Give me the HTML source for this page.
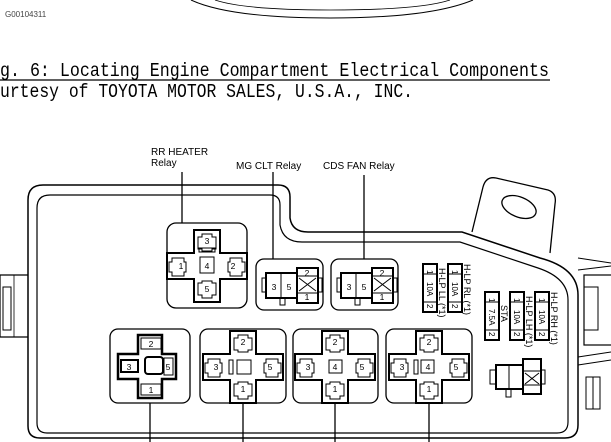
<!DOCTYPE html>
<html><head><meta charset="utf-8"><style>
html,body{margin:0;padding:0;background:#fff;}
svg{display:block;}
</style></head><body>
<svg width="611" height="442" viewBox="0 0 611 442" xmlns="http://www.w3.org/2000/svg" font-family="'Liberation Sans',sans-serif">
<defs>
<g id="cross">
<path d="M-13,-36 H13 V-13 H40 V13 H13 V36 H-13 V13 H-40 V-13 H-13 Z" fill="none" stroke="#000" stroke-width="2"/>
<path d="M-9,-29 h4 v-3 h10 v3 h4 v12 h-4 v2 h-10 v-2 h-4 Z" fill="none" stroke="#000" stroke-width="1"/>
<path d="M-9,17 h4 v-2 h10 v2 h4 v12 h-4 v3 h-10 v-3 h-4 Z" fill="none" stroke="#000" stroke-width="1"/>
<path d="M-35,-8 v4 h-3 v10 h3 v4 h12 v-4 h2 v-10 h-2 v-4 Z" fill="none" stroke="#000" stroke-width="1"/>
<path d="M35,-8 v4 h3 v10 h-3 v4 h-12 v-4 h-2 v-10 h2 v-4 Z" fill="none" stroke="#000" stroke-width="1"/>
</g>
<g id="conn">
<rect x="0" y="0" width="67" height="51" rx="8" fill="none" stroke="#000" stroke-width="1.3"/>
<rect x="10" y="14" width="31" height="25" fill="none" stroke="#000" stroke-width="2"/>
<line x1="25" y1="14" x2="25" y2="39" stroke="#000"/>
<rect x="41" y="9" width="21" height="35" fill="none" stroke="#000" stroke-width="2"/>
<line x1="41" y1="17" x2="62" y2="17" stroke="#000"/>
<line x1="41" y1="34" x2="62" y2="34" stroke="#000"/>
<path d="M43,19 L60,32 M60,19 L43,32" stroke="#000"/>
<rect x="6" y="19" width="4" height="14" fill="none" stroke="#000"/>
<rect x="62" y="19" width="4" height="14" fill="none" stroke="#000"/>
<rect x="24" y="39" width="5" height="7" fill="none" stroke="#000"/>
</g>
<g id="fuse">
<rect x="0" y="0" width="14" height="48" fill="none" stroke="#000" stroke-width="2"/>
<line x1="0" y1="10" x2="14" y2="10" stroke="#000"/>
<line x1="0" y1="38" x2="14" y2="38" stroke="#000"/>
</g>
</defs>

<text x="5" y="17" font-size="8" fill="#444">G00104311</text>
<path d="M191,0 Q230,18 330,18 Q430,18 473,0" fill="none" stroke="#000" stroke-width="1"/>
<path d="M215,0 Q245,10 330,10 Q420,10 450,0" fill="none" stroke="#000" stroke-width="0.8"/>

<g font-family="'Liberation Mono','Noto Serif CJK SC',monospace" font-size="19">
<text x="0" y="76" textLength="549" lengthAdjust="spacingAndGlyphs">g. 6: Locating Engine Compartment Electrical Components</text>
<line x1="0" y1="80" x2="550" y2="80" stroke="#000" stroke-width="1.2"/>
<text x="0" y="97" textLength="413" lengthAdjust="spacingAndGlyphs">urtesy of TOYOTA MOTOR SALES, U.S.A., INC.</text>
</g>

<g font-size="10" fill="#000">
<text x="151" y="155">RR HEATER</text>
<text x="151" y="166">Relay</text>
<text x="236" y="169">MG CLT Relay</text>
<text x="323" y="169">CDS FAN Relay</text>
</g>

<path d="M472,232 L483,187 Q486,176 496,178 L548,190 Q557,193 555,204 L550,253" fill="none" stroke="#000" stroke-width="1.3"/>
<ellipse cx="519" cy="207" rx="18" ry="10" transform="rotate(22 519 207)" fill="none" stroke="#000" stroke-width="1.3"/>

<path d="M28,200 Q28,185 43,185 L278,185 Q290,185 290,197 L290,218 Q292,232 308,232 L462,232 L540,258 Q578,268 578,295 L578,425 Q578,438 565,438 L40,438 Q28,438 28,426 Z" fill="none" stroke="#000" stroke-width="1.5"/>
<path d="M37,208 Q37,195 50,195 L270,195 Q280,195 280,205 L280,225 Q283,242 302,242 L460,242 L538,268 Q568,278 568,300 L568,422 Q568,433 557,433 L47,433 Q37,433 37,423 Z" fill="none" stroke="#000" stroke-width="1.2"/>

<path d="M28,275 H0 M28,337 H0 M0,275 V337" fill="none" stroke="#000" stroke-width="1.2"/>
<rect x="3" y="287" width="8" height="43" fill="none" stroke="#000"/>
<line x1="14" y1="275" x2="14" y2="337" stroke="#000" stroke-width="0.8"/>

<path d="M578,258 L611,263 M578,270 L611,266" stroke="#000" stroke-width="1"/>
<rect x="584" y="275" width="30" height="70" fill="none" stroke="#000" stroke-width="1.2"/>
<rect x="584" y="287" width="14" height="43" fill="none" stroke="#000"/>
<path d="M578,357 L611,352 M578,365 L611,360" stroke="#000" stroke-width="1"/>
<rect x="586" y="377" width="14" height="32" fill="none" stroke="#000"/>
<line x1="593" y1="377" x2="593" y2="409" stroke="#000"/>

<g stroke="#000" stroke-width="1.3">
<line x1="182" y1="172" x2="182" y2="223"/>
<line x1="273" y1="172" x2="273" y2="259"/>
<line x1="364" y1="175" x2="364" y2="259"/>
<line x1="150" y1="403" x2="150" y2="442"/>
<line x1="243" y1="403" x2="243" y2="442"/>
<line x1="335" y1="403" x2="335" y2="442"/>
<line x1="429" y1="403" x2="429" y2="442"/>
</g>

<rect x="167" y="223" width="80" height="85" rx="9" fill="none" stroke="#000" stroke-width="1.3"/>
<use href="#cross" x="207" y="266"/>
<rect x="200" y="257" width="14" height="16" fill="none" stroke="#000"/>
<rect x="199" y="248" width="16" height="4" fill="none" stroke="#000"/>

<use href="#conn" x="256" y="259"/>
<use href="#conn" x="331" y="259"/>

<g fill="none" stroke="#000" stroke-width="1.3">
<rect x="110" y="329" width="80" height="74" rx="8"/>
<rect x="200" y="329" width="86" height="74" rx="8"/>
<rect x="293" y="329" width="85" height="74" rx="8"/>
<rect x="386" y="329" width="86" height="74" rx="8"/>
</g>
<use href="#cross" x="243" y="367"/>
<use href="#cross" x="335" y="367"/>
<use href="#cross" x="429" y="367"/>
<g fill="none" stroke="#000">
<rect x="237" y="360" width="14" height="14"/>
<rect x="229" y="360" width="4" height="14"/>
<rect x="329" y="360" width="13" height="13"/>
<rect x="421" y="360" width="13" height="13"/>
<rect x="414" y="360" width="4" height="14"/>
</g>
<g fill="none" stroke="#000">
<path d="M138,335 H162 V354 H176 V379 H162 V398 H138 V379 H118 V354 H138 Z" stroke-width="2.5"/>
<rect x="141" y="338" width="20" height="11" stroke-width="1"/>
<rect x="141" y="384" width="20" height="11" stroke-width="1"/>
<rect x="121" y="360" width="17" height="12" stroke-width="2"/>
<rect x="164" y="358" width="9" height="17" stroke-width="1"/>
<rect x="145" y="357" width="18" height="17" rx="3" stroke-width="2"/>
</g>

<g font-size="8.5" text-anchor="middle" fill="#000">
<text x="207" y="244">3</text><text x="207" y="269">4</text>
<text x="181" y="269">1</text><text x="233" y="269">2</text><text x="207" y="292">5</text>
<text x="274" y="290">3</text><text x="289" y="290">5</text><text x="307" y="276">2</text><text x="307" y="300">1</text>
<text x="349" y="290">3</text><text x="364" y="290">5</text><text x="382" y="276">2</text><text x="382" y="300">1</text>
<text x="151" y="347">2</text><text x="151" y="393">1</text><text x="129" y="370">3</text><text x="168" y="370">5</text>
<text x="243" y="345">2</text><text x="243" y="392">1</text><text x="216" y="370">3</text><text x="270" y="370">5</text>
<text x="335" y="345">2</text><text x="335" y="392">1</text><text x="308" y="370">3</text><text x="335" y="370">4</text><text x="362" y="370">5</text>
<text x="429" y="345">2</text><text x="429" y="392">1</text><text x="402" y="370">3</text><text x="428" y="370">4</text><text x="456" y="370">5</text>
</g>

<use href="#fuse" x="423" y="264"/>
<use href="#fuse" x="448" y="264"/>
<use href="#fuse" x="485" y="292"/>
<use href="#fuse" x="510" y="292"/>
<use href="#fuse" x="535" y="292"/>
<g font-size="8" fill="#000">
<text transform="translate(427,270) rotate(90)">1</text>
<text transform="translate(427,282) rotate(90)">10A</text>
<text transform="translate(427,304) rotate(90)">2</text>
<text transform="translate(452,270) rotate(90)">1</text>
<text transform="translate(452,282) rotate(90)">10A</text>
<text transform="translate(452,304) rotate(90)">2</text>
<text transform="translate(489,298) rotate(90)">1</text>
<text transform="translate(489,309) rotate(90)">7.5A</text>
<text transform="translate(489,332) rotate(90)">2</text>
<text transform="translate(514,298) rotate(90)">1</text>
<text transform="translate(514,310) rotate(90)">10A</text>
<text transform="translate(514,332) rotate(90)">2</text>
<text transform="translate(539,298) rotate(90)">1</text>
<text transform="translate(539,310) rotate(90)">10A</text>
<text transform="translate(539,332) rotate(90)">2</text>
<g font-size="9">
<text transform="translate(439,268) rotate(90)">H-LP LL (*1)</text>
<text transform="translate(464,264) rotate(90)">H-LP RL (*1)</text>
<text transform="translate(501,305) rotate(90)">STA</text>
<text transform="translate(526,296) rotate(90)">H-LP LH (*1)</text>
<text transform="translate(551,292) rotate(90)">H-LP RH (*1)</text>
</g>
</g>

<g fill="none" stroke="#000">
<rect x="496" y="365" width="27" height="24" stroke-width="2"/>
<line x1="509" y1="365" x2="509" y2="389"/>
<rect x="523" y="359" width="18" height="35" stroke-width="2"/>
<line x1="523" y1="371" x2="541" y2="371"/>
<line x1="523" y1="385" x2="541" y2="385"/>
<path d="M525,373 L539,384 M539,373 L525,384"/>
<rect x="490" y="370" width="6" height="14"/>
<rect x="541" y="370" width="4" height="14"/>
<rect x="506" y="389" width="5" height="8"/>
</g>
</svg>
</body></html>
